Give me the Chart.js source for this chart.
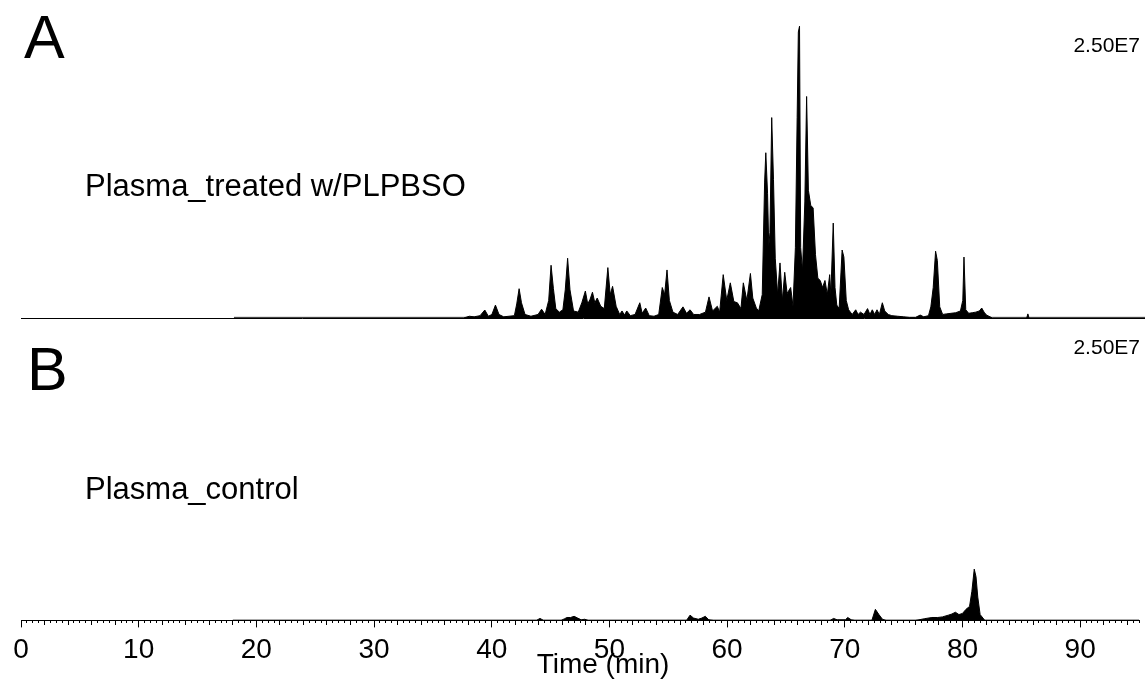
<!DOCTYPE html>
<html>
<head>
<meta charset="utf-8">
<script src="https://cdn.jsdelivr.net/npm/chart.js@4.4.1/dist/chart.umd.min.js"></script>
<style>
    html, body { margin: 0; padding: 0; background: #fff; }
    #wrap { position: relative; width: 1145px; height: 681px; }
    #wrap canvas { position: absolute; left: 0; top: 0; }
</style>
</head>
<body>
<div id="wrap">
    <canvas id="treatedChart" width="1145" height="681"></canvas>
    <canvas id="controlChart" width="1145" height="681"></canvas>
</div>
<script>
// full scale of both traces is 2.50E7, intensities below are in units of 1E6
const fullScale = 25;
const runStart = 0;
const runEnd = 95;
const traceStart = 18;

// Plasma treated w/PLPBSO (time in min, intensity x1E6)
const treatedTime = [
    18.0, 37.4, 37.9, 38.3, 38.8, 39.2, 39.5, 39.8, 40.1, 40.4, 40.8, 41.7, 41.9, 42.1, 42.3, 42.6,
    43.1, 43.7, 44.0, 44.3, 44.6, 44.8, 45.0, 45.2, 45.5, 45.8, 46.0, 46.2, 46.4, 46.7, 47.1, 47.4,
    47.7, 47.9, 48.1, 48.3, 48.5, 48.7, 49.0, 49.3, 49.6, 49.8, 50.0, 50.3, 50.6, 50.8, 51.0, 51.2,
    51.5, 51.9, 52.3, 52.5, 52.8, 53.1, 53.5, 53.9, 54.2, 54.4, 54.6, 54.8, 55.1, 55.5, 55.95, 56.25,
    56.55, 56.85, 57.35, 57.85, 58.15, 58.45, 58.85, 59.05, 59.35, 59.65, 59.95, 60.25, 60.55, 60.85, 61.05, 61.35,
    61.65, 61.85, 62.15, 62.35, 62.65, 62.85, 62.95, 63.1, 63.2, 63.3, 63.45, 63.6, 63.75, 63.95, 64.15, 64.35,
    64.55, 64.75, 65.05, 65.25, 65.45, 65.6, 65.7, 65.8, 65.9, 66.05, 66.25, 66.4, 66.55, 66.75, 66.95, 67.15,
    67.35, 67.55, 67.75, 67.95, 68.15, 68.35, 68.45, 68.65, 68.8, 68.95, 69.15, 69.4, 69.55, 69.75, 69.95, 70.25,
    70.55, 70.75, 70.95, 71.25, 71.55, 71.75, 71.95, 72.15, 72.35, 72.55, 72.8, 73.0, 73.3, 73.6, 74.1, 74.6,
    75.1, 75.6, 76.0, 76.3, 76.7, 76.9, 77.1, 77.3, 77.45, 77.65, 77.9, 78.2, 78.6, 79.0, 79.4, 79.6,
    79.7, 79.85, 80.1, 80.4, 80.7, 81.0, 81.2, 81.4, 81.6, 81.9, 82.1, 85.0, 85.1, 85.2, 95.0
];
const treatedIntensity = [
    0, 0, 0.15, 0.1, 0.2, 0.68, 0.15, 0.3, 1.1, 0.3, 0.1, 0.2, 1.2, 2.5, 1.3, 0.3,
    0.15, 0.3, 0.75, 0.3, 1.5, 4.5, 2.5, 0.8, 0.5, 0.7, 2.4, 5.1, 2.4, 0.6, 0.5, 1.3,
    2.3, 1.2, 1.6, 2.2, 1.3, 1.7, 1.0, 0.8, 4.3, 2.0, 2.7, 1.0, 0.3, 0.6, 0.25, 0.6,
    0.2, 0.3, 1.3, 0.4, 0.85, 0.2, 0.15, 0.3, 2.6, 2.0, 4.1, 1.5, 0.5, 0.3, 0.95, 0.4,
    0.7, 0.3, 0.3, 0.5, 1.8, 0.6, 1.0, 0.5, 3.7, 1.5, 3.0, 1.4, 1.3, 0.8, 3.0, 1.5,
    3.8, 1.7, 0.85, 0.6, 2.0, 11.6, 14.1, 10.6, 6.1, 7.3, 17.1, 11.8, 5.1, 2.0, 4.7, 1.5,
    3.9, 2.1, 2.6, 1.0, 6.0, 17.1, 24.4, 24.9, 6.0, 4.0, 9.9, 18.9, 10.9, 9.6, 9.4, 5.4,
    3.4, 3.2, 2.6, 3.2, 2.0, 3.7, 2.0, 8.1, 2.6, 1.1, 0.8, 5.8, 5.2, 1.5, 0.7, 0.3,
    0.7, 0.3, 0.5, 0.3, 0.8, 0.3, 0.7, 0.3, 0.7, 0.3, 1.3, 0.6, 0.3, 0.2, 0.15, 0.1,
    0.05, 0.05, 0.25, 0.1, 0.2, 0.95, 2.6, 5.7, 4.9, 0.95, 0.3, 0.35, 0.4, 0.45, 0.6, 1.5,
    5.2, 0.7, 0.4, 0.45, 0.5, 0.6, 0.85, 0.5, 0.25, 0.1, 0, 0, 0.35, 0, 0
];

// Plasma control (time in min, intensity x1E6)
const controlTime = [
    18.0, 43.8, 44.1, 44.4, 45.9, 46.2, 46.4, 46.7, 47.0, 47.3, 47.6, 47.9, 48.2, 56.55, 56.85, 57.15,
    57.55, 57.85, 58.15, 58.45, 58.85, 68.75, 69.05, 69.35, 70.05, 70.25, 70.55, 70.85, 72.3, 72.6, 72.9, 73.2,
    73.5, 76.0, 76.3, 76.8, 77.4, 77.9, 78.3, 78.8, 79.1, 79.4, 79.7, 80.0, 80.3, 80.6, 80.8, 81.0,
    81.15, 81.3, 81.5, 81.9, 95.0
];
const controlIntensity = [
    0, 0, 0.17, 0, 0, 0.15, 0.25, 0.25, 0.35, 0.2, 0.05, 0.1, 0, 0, 0.45, 0.2,
    0.1, 0.2, 0.35, 0.05, 0, 0, 0.17, 0.05, 0.05, 0.25, 0.05, 0, 0, 0.95, 0.5, 0.1,
    0, 0, 0.05, 0.15, 0.25, 0.25, 0.3, 0.45, 0.55, 0.7, 0.5, 0.6, 0.95, 1.2, 2.5, 4.4,
    3.75, 2.0, 0.5, 0, 0
];

const toPoints = (xs, ys) => xs.map((x, i) => ({x: x, y: ys[i]}));
const fontFamily = '"Liberation Sans", Arial, Helvetica, sans-serif';

// draws the panel letters and sample names
const panelText = {
    id: 'panelText',
    afterDraw(chart, args, opts) {
        const ctx = chart.ctx;
        ctx.save();
        ctx.fillStyle = '#000';
        ctx.textBaseline = 'alphabetic';
        opts.items.forEach(t => {
            ctx.font = t.size + 'px ' + fontFamily;
            ctx.textAlign = t.align || 'left';
            ctx.fillText(t.text, t.x, t.y);
        });
        ctx.restore();
    }
};

function traceDatasets(time, intensity, baseColor, baseWidth) {
    return [{
        data: toPoints(time, intensity),
        borderColor: '#000',
        backgroundColor: '#000',
        borderWidth: 1,
        fill: 'origin',
        pointRadius: 0,
        tension: 0
    }, {
        data: toPoints([traceStart, runEnd], [0, 0]),
        borderColor: baseColor,
        borderWidth: baseWidth,
        fill: false,
        pointRadius: 0
    }];
}

Chart.defaults.font.family = fontFamily;
Chart.defaults.color = '#000';

new Chart(document.getElementById('treatedChart'), {
    type: 'line',
    data: {datasets: traceDatasets(treatedTime, treatedIntensity, '#8a8a8a', 2.5)},
    options: {
        responsive: false,
        animation: false,
        events: [],
        layout: {padding: {left: 21, right: 0, top: 25, bottom: 355}},
        plugins: {
            legend: {display: false},
            tooltip: {enabled: false},
            panelText: {
                items: [
                    {text: 'A', x: 24, y: 58, size: 61},
                    {text: '2.50E7', x: 1140, y: 52, size: 21, align: 'right'},
                    {text: 'Plasma_treated w/PLPBSO', x: 85, y: 196, size: 31}
                ]
            }
        },
        scales: {
            x: {
                type: 'linear',
                min: runStart,
                max: runEnd,
                grid: {display: false},
                ticks: {display: false},
                border: {display: true, color: '#000', width: 1}
            },
            y: {display: false, min: 0, max: fullScale}
        }
    },
    plugins: [panelText]
});

new Chart(document.getElementById('controlChart'), {
    type: 'line',
    data: {datasets: traceDatasets(controlTime, controlIntensity, '#000', 1.5)},
    options: {
        responsive: false,
        animation: false,
        events: [],
        layout: {padding: {left: 21, right: 0, top: 329, bottom: 8}},
        plugins: {
            legend: {display: false},
            tooltip: {enabled: false},
            panelText: {
                items: [
                    {text: 'B', x: 27, y: 390, size: 61},
                    {text: '2.50E7', x: 1140, y: 354, size: 21, align: 'right'},
                    {text: 'Plasma_control', x: 85, y: 499, size: 31},
                    {text: 'Time (min)', x: 603, y: 673, size: 28, align: 'center'}
                ]
            }
        },
        scales: {
            x: {
                type: 'linear',
                min: runStart,
                max: runEnd,
                border: {display: true, color: '#000', width: 1},
                grid: {
                    drawOnChartArea: false,
                    drawTicks: true,
                    tickLength: 7,
                    tickColor: '#000',
                    tickWidth: 1,
                    tickBorderDash: (c) => {
                        const v = c.tick ? c.tick.value : 0;
                        if (Math.abs(v % 10) < 1e-6) return [];
                        if (Math.abs(v % 2) < 1e-6) return [4, 20];
                        return [2, 20];
                    }
                },
                ticks: {
                    stepSize: 0.5,
                    autoSkip: false,
                    maxRotation: 0,
                    padding: 6,
                    font: {size: 28},
                    callback: (v) => (Math.abs(v % 10) < 1e-6 ? String(v) : '')
                }
            },
            y: {display: false, min: 0, max: fullScale}
        }
    },
    plugins: [panelText]
});
</script>
</body>
</html>
